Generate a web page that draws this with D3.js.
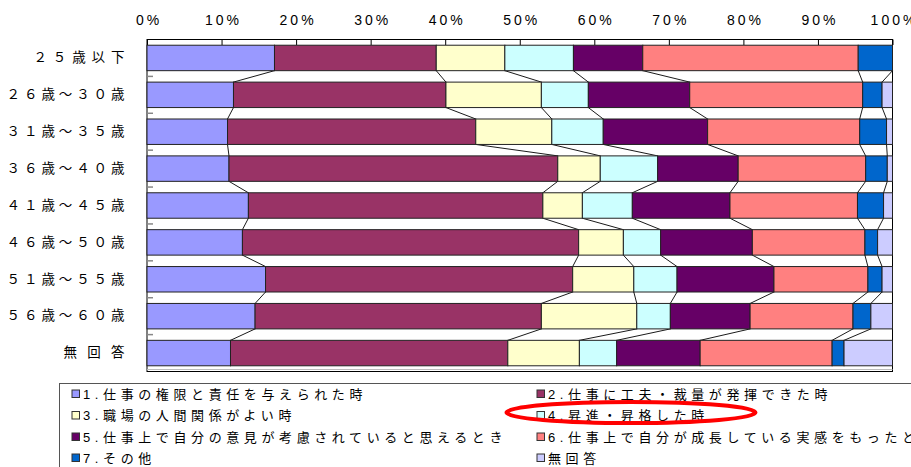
<!DOCTYPE html>
<html>
<head>
<meta charset="utf-8">
<script src="https://cdn.jsdelivr.net/npm/d3@7"></script>
<style>
  html, body { margin: 0; padding: 0; background: #fff; }
  svg { display: block; }
</style>
</head>
<body>
<svg id="chart" width="911" height="467"></svg>
<script>
// Age groups (rows, top to bottom)
const ageGroups = ["２５歳以下", "２６歳～３０歳", "３１歳～３５歳", "３６歳～４０歳", "４１歳～４５歳",
                   "４６歳～５０歳", "５１歳～５５歳", "５６歳～６０歳", "無回答"];

// Share of answers per age group (%), one array per answer
const kengen   = [17.1, 11.6, 10.8, 11.0, 13.6, 12.8, 15.9, 14.5, 11.2]; // 1. 権限と責任
const kufuu    = [21.7, 28.5, 33.3, 44.1, 39.5, 45.1, 41.2, 38.4, 37.2]; // 2. 工夫・裁量
const ningen   = [ 9.2, 12.8, 10.2,  5.7,  5.3,  6.0,  8.2, 12.8,  9.6]; // 3. 人間関係
const shoshin  = [ 9.2,  6.3,  6.9,  7.7,  6.7,  5.0,  5.8,  4.5,  5.0]; // 4. 昇進・昇格
const iken     = [ 9.3, 13.6, 14.0, 10.8, 13.1, 12.3, 13.0, 10.7, 11.2]; // 5. 意見が考慮
const seichou  = [28.9, 23.2, 20.4, 17.1, 17.1, 15.1, 12.6, 13.8, 17.7]; // 6. 成長の実感
const sonota   = [ 4.6,  2.6,  3.6,  2.9,  3.5,  1.7,  1.9,  2.4,  1.6]; // 7. その他
const mukaitou = [ 0.0,  1.4,  0.8,  0.7,  1.2,  2.0,  1.4,  2.9,  6.5]; // 無回答

const seriesNames = [
  "1.仕事の権限と責任を与えられた時",
  "2.仕事に工夫・裁量が発揮できた時",
  "3.職場の人間関係がよい時",
  "4.昇進・昇格した時",
  "5.仕事上で自分の意見が考慮されていると思えるとき",
  "6.仕事上で自分が成長している実感をもったとき",
  "7.その他",
  "無回答"
];
const seriesValues = [kengen, kufuu, ningen, shoshin, iken, seichou, sonota, mukaitou];
const seriesColors = ["#9999FF", "#993366", "#FFFFCC", "#CCFFFF", "#660066", "#FF8080", "#0066CC", "#CCCCFF"];

const xTicks = [0, 10, 20, 30, 40, 50, 60, 70, 80, 90, 100];

// Build a row table for d3.stack
const table = ageGroups.map((g, i) => {
  const row = { group: g };
  seriesNames.forEach((s, k) => { row[s] = seriesValues[k][i]; });
  return row;
});

const svg = d3.select("#chart");
const plot = { left: 147, right: 892.5, top: 39.5, bottom: 371.5 };

const x = d3.scaleLinear().domain([0, 100]).range([plot.left, plot.right]);
const y = d3.scaleBand().domain(ageGroups).range([plot.top, plot.bottom])
  .paddingInner(0.31).paddingOuter(0.155);
const color = d3.scaleOrdinal().domain(seriesNames).range(seriesColors);

const stacked = d3.stack().keys(seriesNames)(table);
const bw = y.bandwidth();

// Plot frame
svg.append("rect")
  .attr("x", plot.left).attr("y", plot.top)
  .attr("width", plot.right - plot.left).attr("height", plot.bottom - plot.top)
  .attr("fill", "#fff").attr("stroke", "#000").attr("stroke-width", 1);
svg.append("line")
  .attr("x1", plot.left).attr("x2", plot.right)
  .attr("y1", plot.bottom - 2).attr("y2", plot.bottom - 2)
  .attr("stroke", "#bbb").attr("stroke-width", 1);

// Top percentage axis, ticks pointing into the plot
const xAxis = d3.axisTop(x).tickValues(xTicks).tickFormat(d => d + "%")
  .tickSizeInner(-5.5).tickSizeOuter(0).tickPadding(15);
const gx = svg.append("g").attr("transform", `translate(0,${plot.top})`).call(xAxis);
gx.select(".domain").remove();
gx.selectAll(".tick line").attr("stroke", "#000");
gx.selectAll(".tick text")
  .attr("fill", "#000")
  .attr("font-family", "'Liberation Sans', Arial, sans-serif")
  .attr("font-size", 14)
  .attr("letter-spacing", 3)
  .attr("dx", 1.5);

// Category ticks between bars
svg.append("g").selectAll("line")
  .data(ageGroups.slice(1))
  .join("line")
  .attr("x1", plot.left).attr("x2", plot.left + 6)
  .attr("y1", d => y(d) - (y.step() - bw) / 2)
  .attr("y2", d => y(d) - (y.step() - bw) / 2)
  .attr("stroke", "#888").attr("stroke-width", 1.5);

// Connector lines between consecutive bars at each stack boundary
const connectors = [];
stacked.slice(0, seriesNames.length - 1).forEach(layer => {
  for (let i = 0; i < ageGroups.length - 1; i++) {
    connectors.push({
      x1: x(layer[i][1]), y1: y(ageGroups[i]) + bw,
      x2: x(layer[i + 1][1]), y2: y(ageGroups[i + 1])
    });
  }
});
svg.append("g").selectAll("line")
  .data(connectors)
  .join("line")
  .attr("x1", d => d.x1).attr("y1", d => d.y1)
  .attr("x2", d => d.x2).attr("y2", d => d.y2)
  .attr("stroke", "#000").attr("stroke-width", 0.9);

// Stacked bars
svg.append("g").selectAll("g")
  .data(stacked)
  .join("g")
  .attr("fill", d => color(d.key))
  .selectAll("rect")
  .data(d => d)
  .join("rect")
  .attr("x", d => x(d[0]))
  .attr("y", d => y(d.data.group))
  .attr("width", d => x(d[1]) - x(d[0]))
  .attr("height", bw)
  .attr("stroke", "#222").attr("stroke-width", 1);

// Age-group labels: shorter labels are spread wider
const labelSpacing = { 3: 10.2, 5: 5.9, 7: 3.9 };
const yAxis = d3.axisLeft(y).tickSize(0).tickPadding(0);
const gy = svg.append("g").call(yAxis);
gy.select(".domain").remove();
gy.selectAll(".tick text")
  .attr("fill", "#000")
  .attr("font-family", "'Noto Sans CJK JP', sans-serif")
  .attr("font-size", 13.5)
  .attr("letter-spacing", d => labelSpacing[d.length] || 3.9)
  .attr("x", d => 124.5 + (labelSpacing[d.length] || 3.9));

// Legend
const legend = svg.append("g");
legend.append("rect")
  .attr("x", 59.5).attr("y", 383.5).attr("width", 900).attr("height", 100)
  .attr("fill", "#fff").attr("stroke", "#555").attr("stroke-width", 1);
const legendCols = [72, 537];
const legendRows = [394, 415.5, 437, 458];
const items = legend.selectAll("g.item")
  .data(seriesNames)
  .join("g").attr("class", "item")
  .attr("transform", (d, i) => `translate(${legendCols[i % 2]},${legendRows[Math.floor(i / 2)]})`);
items.append("rect")
  .attr("x", 0).attr("y", -4).attr("width", 7.5).attr("height", 7.5)
  .attr("fill", d => color(d)).attr("stroke", "#333").attr("stroke-width", 1);
items.append("text")
  .attr("x", 11).attr("y", 0).attr("dy", "0.36em")
  .attr("font-family", "'Liberation Sans', 'Noto Sans CJK JP', sans-serif")
  .attr("font-size", 13)
  .attr("letter-spacing", 4.6)
  .attr("fill", "#000")
  .text(d => d);

// Highlight ring around the promotion item
svg.append("ellipse")
  .attr("cx", 631).attr("cy", 412.5).attr("rx", 124.5).attr("ry", 10.5)
  .attr("fill", "none").attr("stroke", "#FF0000").attr("stroke-width", 4);
</script>
</body>
</html>
